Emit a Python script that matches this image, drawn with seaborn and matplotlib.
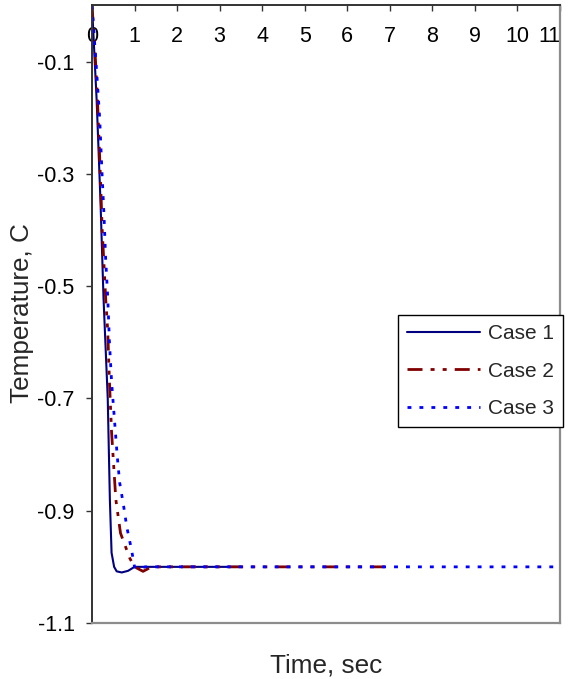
import matplotlib
matplotlib.use("Agg")
import matplotlib.pyplot as plt
import numpy as np
import pandas as pd
import seaborn as sns

# data
time_1 = [0.0, 0.11, 0.20, 0.27, 0.37, 0.42, 0.46, 0.52, 0.58, 0.70, 0.85, 1.0, 1.5, 3.5]
temp_1 = [0.0, -0.17, -0.35, -0.52, -0.70, -0.88, -0.975, -1.0, -1.008, -1.01, -1.007, -1.0, -1.0, -1.0]

time_2 = [0.0, 0.07, 0.13, 0.19, 0.24, 0.32, 0.37, 0.41, 0.46, 0.51, 0.56, 0.67, 0.89, 1.0, 1.2, 1.4, 7.0]
temp_2 = [0.0, -0.08, -0.17, -0.29, -0.40, -0.52, -0.58, -0.67, -0.76, -0.82, -0.88, -0.94, -0.985, -1.0, -1.008, -1.0, -1.0]

time_3 = [0.0, 0.12, 0.18, 0.23, 0.28, 0.32, 0.37, 0.41, 0.46, 0.52, 0.56, 0.59, 0.65, 0.74, 0.82, 0.93, 1.0, 1.08, 1.25, 11.0]
temp_3 = [0.0, -0.13, -0.20, -0.29, -0.37, -0.45, -0.52, -0.60, -0.67, -0.73, -0.77, -0.80, -0.85, -0.89, -0.93, -0.97, -1.0, -1.004, -1.0, -1.0]

labels = ["Case 1", "Case 2", "Case 3"]
x_ticks = list(range(12))
y_ticks = [-0.1, -0.3, -0.5, -0.7, -0.9, -1.1]

sns.set_theme(style="white")
plt.rcParams["font.family"] = ["Liberation Sans", "DejaVu Sans"]

W, H = 571, 679
fig = plt.figure(figsize=(W / 100, H / 100), dpi=100)
ax = fig.add_axes([92 / W, 1 - 623 / H, (560 - 92) / W, (623 - 5.4) / H])

sns.lineplot(x=time_1, y=temp_1, ax=ax, color="#000080", lw=1.5, label=labels[0], sort=False)
sns.lineplot(x=time_2, y=temp_2, ax=ax, color="#800000", lw=2.0, label=labels[1], sort=False,
             linestyle=(0, (5.4, 2.9, 1.45, 2.9, 1.45, 2.9)))
sns.lineplot(x=time_3, y=temp_3, ax=ax, color="#0000FF", lw=2.0, label=labels[2], sort=False,
             linestyle=(0, (1.4, 2.9)))

ax.set_xlim(0, 11)
ax.set_ylim(-1.1, 0)
ax.set_xlabel("")
ax.set_ylabel("")

# x axis crosses at 0 -> ticks on top, labels just under the line
ax.set_xticks(x_ticks, [str(v) for v in x_ticks])
ax.xaxis.tick_top()
ax.tick_params(axis="x", direction="in", length=4.5, width=1, color="#333333",
               labelsize=15.5, pad=-30, labelcolor="black")
ax.get_xticklabels()[-1].set_horizontalalignment("right")

ax.set_yticks(y_ticks, ["%.1f" % v for v in y_ticks])
ax.tick_params(axis="y", direction="out", length=4.5, width=1, color="#333333",
               labelsize=15.5, pad=8, labelcolor="black", left=True)

for side in ["top", "left"]:
    ax.spines[side].set_color("#333333")
    ax.spines[side].set_linewidth(1.4)
for side in ["right", "bottom"]:
    ax.spines[side].set_color("#8c8c8c")
    ax.spines[side].set_linewidth(1.6)

leg = ax.legend(loc="upper left", bbox_to_anchor=(398 / W, 1 - 315 / H),
                bbox_transform=fig.transFigure, fontsize=15, frameon=True,
                fancybox=False, shadow=False, handlelength=3.5, handletextpad=0.35,
                labelspacing=0.88, borderpad=0.45, borderaxespad=0)
leg.get_frame().set_edgecolor("black")
leg.get_frame().set_linewidth(1.0)
leg.get_frame().set_alpha(1)

fig.text(326 / W, 1 - 673 / H, "Time, sec", fontsize=18.8, ha="center", va="baseline")
fig.text(22 / W, 1 - 313 / H, "Temperature, C", fontsize=18.8, rotation=90,
         ha="center", va="center")

fig.savefig("out.png", dpi=100)
